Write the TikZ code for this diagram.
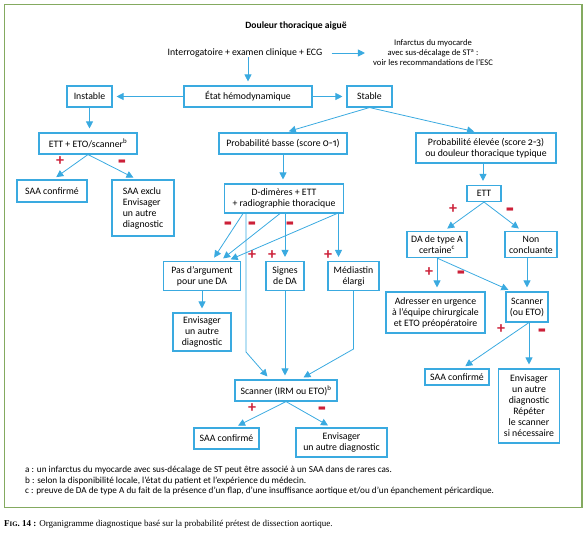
\documentclass[tikz,border=0pt]{standalone}
\usepackage{fontspec}
\usepackage{graphicx}
\setmainfont{Carlito}
\newfontfamily\oldnum{Fira Sans}[Numbers=OldStyle]
\newfontfamily\capfont{Liberation Serif}
\usetikzlibrary{arrows.meta,calc}
\definecolor{bx}{RGB}{58,170,224}
\definecolor{sg}{RGB}{204,32,56}
\definecolor{fr}{RGB}{132,170,96}
\newcommand{\mnsign}{\raisebox{-0.70em}[0pt][0pt]{\scalebox{1.15}[2.2]{–}}}
\begin{document}
\begin{tikzpicture}[x=1pt,y=-1pt,
  box/.style={draw=bx,line width=1.1pt,fill=white,align=center,inner sep=0pt,font=\fontsize{9.8}{11}\selectfont},
  plain/.style={align=center,inner sep=0pt,font=\fontsize{9.8}{11}\selectfont},
  arr/.style={draw=bx,line width=0.8pt,shorten >=4pt,-{Triangle[length=7pt,width=7pt]}},
  sgn/.style={text=sg,inner sep=0pt,font=\fontsize{16}{16}\selectfont\bfseries}]
\useasboundingbox (0,0) rectangle (588,540);
\draw[fr,line width=1.6pt] (4.5,4.5) rectangle (582,507.5);

% texts
\node[plain,font=\fontsize{9.6}{11}\selectfont\bfseries] (title) at (296,26) {Douleur thoracique aiguë};
\node[plain] (inter) at (245,53) {Interrogatoire + examen clinique + ECG};
\node[plain,font=\fontsize{8.6}{10}\selectfont] (inf) at (433,53) {Infarctus du myocarde\\avec sus-décalage de ST\textsuperscript{a} :\\voir les recommandations de l’ESC};

% boxes
\node[box,minimum width=128pt,minimum height=21pt] (etat) at (248,96.5) {État hémodynamique};
\node[box,minimum width=45pt,minimum height=21pt] (instable) at (89.5,96.5) {Instable};
\node[box,minimum width=45pt,minimum height=21pt] (stable) at (369.5,96.5) {Stable};
\node[box,minimum width=98pt,minimum height=21pt] (etteto) at (88,143.5) {ETT + ETO/scanner\textsuperscript{b}};
\node[box,minimum width=128pt,minimum height=21pt] (pbasse) at (283,143.5) {Probabilité basse (score {\oldnum 0-1})};
\node[box,minimum width=140pt,minimum height=30pt] (pelev) at (486,148) {Probabilité élevée (score {\oldnum 2-3})\\ou douleur thoracique typique};
\node[box,minimum width=70pt,minimum height=22pt] (saa1) at (52,191) {SAA confirmé};
\node[box,minimum width=62pt,minimum height=56pt,align=left] (exclu) at (143,208) {SAA exclu\\Envisager\\un autre\\diagnostic};
\node[box,minimum width=119pt,minimum height=29pt] (ddim) at (284,198.5) {D-dimères + ETT\\+ radiographie thoracique};
\node[box,minimum width=77pt,minimum height=29pt] (pas) at (202,276) {Pas d’argument\\pour une DA};
\node[box,minimum width=38pt,minimum height=29pt] (signes) at (285,276) {Signes\\de DA};
\node[box,minimum width=51pt,minimum height=29pt] (mediast) at (353.5,276) {Médiastin\\élargi};
\node[box,minimum width=58pt,minimum height=38pt] (env1) at (202,332) {Envisager\\un autre\\diagnostic};
\node[box,minimum width=102pt,minimum height=21pt] (scan) at (286,390.5) {Scanner (IRM ou ETO)\textsuperscript{b}};
\node[box,minimum width=65pt,minimum height=21pt] (saa2) at (226.5,438.5) {SAA confirmé};
\node[box,minimum width=91pt,minimum height=29pt] (env2) at (341.5,442.5) {Envisager\\un autre diagnostic};
\node[box,minimum width=34pt,minimum height=16pt] (ett) at (484,193.5) {ETT};
\node[box,minimum width=60pt,minimum height=26pt] (dacert) at (437,244.5) {DA de type A\\certaine\textsuperscript{c}};
\node[box,minimum width=52pt,minimum height=26pt] (nonc) at (531,244.5) {Non\\concluante};
\node[box,minimum width=99pt,minimum height=41pt] (adr) at (435.5,312.5) {Adresser en urgence\\à l’équipe chirurgicale\\et ETO préopératoire};
\node[box,minimum width=42pt,minimum height=30pt] (scanr) at (527,307) {Scanner\\(ou ETO)};
\node[box,minimum width=64pt,minimum height=16pt] (saa3) at (457,377) {SAA confirmé};
\node[box,minimum width=61pt,minimum height=74pt] (env3) at (529,406) {Envisager\\un autre\\diagnostic\\Répéter\\le scanner\\si nécessaire};

% connectors
\draw[arr] (inter.south -| etat.north) -- (etat.north);
\draw[arr] ([xshift=9pt]inter.east) -- ([xshift=-4pt]inf.west);
\draw[arr] (etat.west) -- (instable.east);
\draw[arr] (etat.east) -- (stable.west);
\draw[arr] (instable.south) -- (instable.south |- etteto.north);
\draw[arr] (stable.south) -- ([xshift=2pt]pbasse.north);
\draw[arr] (stable.south) -- ([xshift=-8pt]pelev.north);
\draw[arr] (etteto.south) -- ([xshift=1pt]saa1.north);
\draw[arr] (etteto.south) -- ([xshift=-6pt]exclu.north);
\draw[arr] (pbasse.south) -- (pbasse.south |- ddim.north);
\draw[arr] ([xshift=-3pt]pelev.south) -- ([xshift=-3pt]pelev.south |- ett.north);
\draw[arr] (ett.south) -- ([xshift=7pt]dacert.north);
\draw[arr] (ett.south) -- ([xshift=-9pt]nonc.north);

\draw[arr] ([xshift=-41pt]ddim.south) -- ([xshift=10pt]pas.north);
\draw[arr] ([xshift=-4pt]ddim.south) -- ([xshift=18pt]pas.north);
\draw[arr] ([xshift=53pt]ddim.south) -- ([xshift=25pt]pas.north);
\draw[arr] (signes.north |- ddim.south) -- (signes.north);
\draw[arr] ([xshift=-15pt]mediast.north |- ddim.south) -- ([xshift=-15pt]mediast.north);
\coordinate (bendl) at (246,352);
\draw[arr] (bendl |- ddim.south) -- (bendl) -- ([xshift=-16pt]scan.north);
\draw[arr] (pas.south) -- (env1.north);
\draw[arr] (signes.south) -- (signes.south |- scan.north);
\coordinate (bendr) at (353.5,349);
\draw[arr] (mediast.south) -- (bendr) -- ([xshift=14pt]scan.north);
\draw[arr] (scan.south) -- ([xshift=8pt]saa2.north);
\draw[arr] (scan.south) -- ([xshift=-10pt]env2.north);

\draw[arr] (dacert.south) -- (adr.north -| dacert.south);
\draw[arr] (dacert.south) -- ([xshift=-15pt]scanr.north);
\draw[arr] (scanr.north |- nonc.south) -- (scanr.north);
\draw[arr] ([xshift=2pt]scanr.south) -- ([xshift=5pt]saa3.north);
\draw[arr] ([xshift=2pt]scanr.south) -- ([xshift=2pt]scanr.south |- env3.north);

% signs
\node[sgn] (s1) at (60,161) {+};
\node[sgn] (s2) at (122,160) {\mnsign};
\node[sgn] (s3) at (228,222) {\mnsign};
\node[sgn] (s4) at (252,222) {\mnsign};
\node[sgn] (s5) at (290,222) {\mnsign};
\node[sgn] (s6) at (252,255) {+};
\node[sgn] (s7) at (272,255) {+};
\node[sgn] (s8) at (328,255) {+};
\node[sgn] (s9) at (453,209) {+};
\node[sgn] (s10) at (510,208) {\mnsign};
\node[sgn] (s11) at (429,272) {+};
\node[sgn] (s12) at (461,271) {\mnsign};
\node[sgn] (s13) at (501,329) {+};
\node[sgn] (s14) at (542,329) {\mnsign};
\node[sgn] (s15) at (252,408) {+};
\node[sgn] (s16) at (322,407) {\mnsign};

% footnotes
\node[anchor=west,align=left,inner sep=0pt,font=\fontsize{9.2}{10.5}\selectfont] (fn) at (25,481) {a : un infarctus du myocarde avec sus-décalage de ST peut être associé à un SAA dans de rares cas.\\b : selon la disponibilité locale, l’état du patient et l’expérience du médecin.\\c : preuve de DA de type A du fait de la présence d’un flap, d’une insuffisance aortique et/ou d’un épanchement péricardique.};

\node[anchor=west,inner sep=0pt,font=\capfont\fontsize{9}{10}\selectfont] (cap) at (4,524) {\textbf{F{\fontsize{6.8}{10}\selectfont IG}. 14 :} Organigramme diagnostique basé sur la probabilité prétest de dissection aortique.};
\end{tikzpicture}
\end{document}
